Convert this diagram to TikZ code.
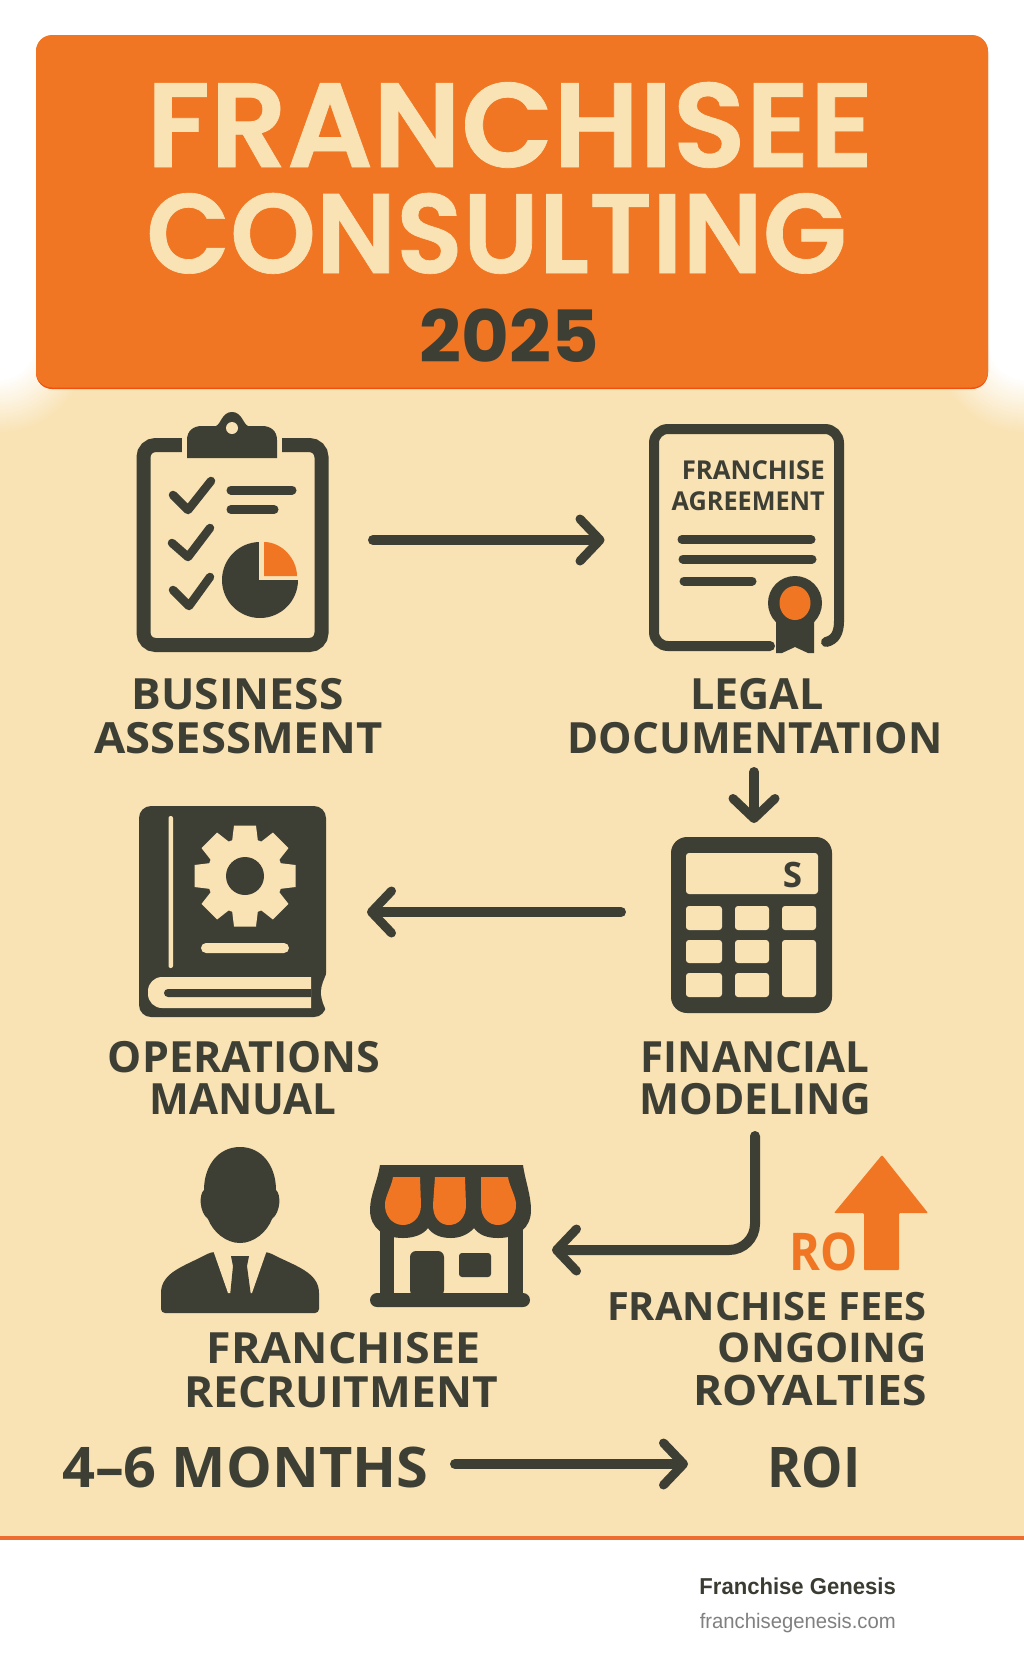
\documentclass[tikz,border=0pt]{standalone}
\usepackage{fontspec}
\usepackage{xcolor}
\usepackage{graphicx}
\setmainfont{Open Sans}
\newfontfamily\titlefont[FakeBold=0.6]{Poppins SemiBold}
\newfontfamily\yearfont{Poppins}
\newfontfamily\footfont{Liberation Sans}
\usetikzlibrary{arrows.meta,positioning}
\definecolor{ink}{HTML}{3D3F35}
\definecolor{cream}{HTML}{F9E2B3}
\definecolor{banner}{HTML}{F17623}
\definecolor{edge}{HTML}{F2500F}
\definecolor{rule}{HTML}{EE6C30}
\newcommand{\sq}[2]{\scalebox{#1}[1]{#2}}
\tikzstyle{flow}=[draw=ink, line width=10pt, line cap=round, -{Straight Barb[length=20pt,width=42pt,round,line width=9pt]}]
\tikzstyle{bar}=[draw=ink, line width=9pt, line cap=round]
\tikzstyle{tick}=[draw=ink, line width=8.5pt, line cap=round, line join=round]
\tikzstyle{key}=[fill=cream, rounded corners=3pt]
\tikzstyle{caption}=[text=ink, inner sep=0pt, anchor=base, font=\bfseries\fontsize{43}{44}\selectfont]
\begin{document}
\begin{tikzpicture}[x=1pt,y=-1pt]
\useasboundingbox (0,0) rectangle (1024,1666);

% background
\fill[cream] (0,370) rectangle (1024,1536);
\begin{scope}
\clip (0,345) rectangle (1024,440);
\foreach \r in {90,89,...,34} {
    \pgfmathtruncatemacro{\p}{(\r-34)*100/56}
    \fill[cream!\p!white] (0,345) circle (\r pt);
    \fill[cream!\p!white] (1024,345) circle (\r pt);
}
\end{scope}
\fill[rule] (0,1536) rectangle (1024,1539.5);

% banner
\fill[edge, rounded corners=16pt] (36,36) rectangle (988,389);
\fill[banner, rounded corners=16pt] (36,35) rectangle (988,387.5);
\node[anchor=base, inner sep=0pt, text=cream, font=\titlefont\fontsize{120}{120}\selectfont] (titleone) at (510,167) {FRANCHISEE};
\node[anchor=base, inner sep=0pt, text=cream, font=\titlefont\fontsize{113}{113}\selectfont] (titletwo) at (496.5,273) {\sq{.967}{CONSULTING}};
\node[anchor=base, inner sep=0pt, text=ink, font=\yearfont\bfseries\fontsize{72}{72}\selectfont] (year) at (509,362) {\sq{1.02}{2025}};

% clipboard
\draw[ink, line width=14pt, rounded corners=12pt] (143.5,445) rectangle (321.5,645);
\fill[cream] (182,436) rectangle (282,453);
\fill[ink] (187,458) -- (187,440) .. controls (187,431) and (193,426) .. (202,426) -- (216,426) .. controls (221,424) and (222,412) .. (232,412) .. controls (242,412) and (243,424) .. (248,426) -- (262,426) .. controls (271,426) and (277,431) .. (277,440) -- (277,458) -- cycle;
\fill[cream] (232,428) circle (6pt);
\draw[tick] (173,495) -- (188,510) -- (211,481);
\draw[tick] (172,543) -- (188,557) -- (210,528);
\draw[tick] (173,590) -- (189,606) -- (210,577);
\draw[bar] (231,490) -- (292,490);
\draw[bar] (231,509.5) -- (274,509.5);
\fill[ink] (260,580) circle (38pt);
\fill[cream] (259,535) rectangle (305,580);
\fill[banner] (264,576) -- (264,542) .. controls (282,542) and (297,559) .. (297,576) -- cycle;

% contract
\draw[ink, line width=10pt, line cap=round, rounded corners=14pt] (770,646) -- (654,646) -- (654,429) -- (839,429) -- (839,622);
\draw[ink, line width=10pt, line cap=round] (839,621) .. controls (839,633) and (835,640) .. (826,642);
\node[anchor=base east, inner sep=0pt, text=ink, font=\bfseries\fontsize{26}{26}\selectfont] (docone) at (825,479) {\sq{.99}{FRANCHISE}};
\node[anchor=base east, inner sep=0pt, text=ink, font=\bfseries\fontsize{26}{26}\selectfont] (doctwo) at (825,510) {\sq{.97}{AGREEMENT}};
\draw[bar] (682,539.5) -- (811,539.5);
\draw[bar] (683,559) -- (812,559);
\draw[bar] (684,581) -- (752,581);
\fill[ink] (776,620) -- (776,653) -- (782,653) -- (795,647) -- (808,653) -- (814,653) -- (814,620) -- cycle;
\fill[ink] (795,603) circle (27pt);
\fill[banner] (795,603) ellipse (15.5pt and 17pt);

% manual
\fill[ink, rounded corners=12pt] (139,806) rectangle (326,1017);
\fill[cream] (327,972) .. controls (324,980) and (321,985) .. (321,992) .. controls (321,1000) and (324,1006) .. (327,1012) -- cycle;
\fill[cream, rounded corners=2pt] (168.5,816) rectangle (173,968);
\foreach \a in {0,45,...,315} {
    \fill[cream, rotate around={\a:(245,876)}] (231,850) -- (234,825.5) -- (256,825.5) -- (259,850) -- cycle;
}
\fill[cream] (245,876) circle (38pt);
\fill[ink] (245,876) circle (19pt);
\fill[cream, rounded corners=5pt] (201,943) rectangle (289,953);
\fill[cream, rounded corners=14pt] (311,977) -- (148,977) -- (148,1008) -- (311,1008);
\fill[cream] (300,977) rectangle (311,1008);
\fill[ink, rounded corners=4pt] (311,989) -- (164,989) -- (164,997) -- (311,997);
\fill[ink] (300,989) rectangle (311,997);

% calculator
\fill[ink, rounded corners=16pt] (671,837) rectangle (832,1013);
\fill[key] (686,853) rectangle (818,894);
\node[anchor=base, inner sep=0pt, text=ink, font=\bfseries\fontsize{35}{35}\selectfont] (dollar) at (792.5,887) {S};
\foreach \x/\w in {686/722,735/769,782/816} {
    \fill[key] (\x,906) rectangle (\w,930);
}
\foreach \x/\w in {686/722,735/769} {
    \fill[key] (\x,940) rectangle (\w,963);
    \fill[key] (\x,973) rectangle (\w,997);
}
\fill[key] (782,940) rectangle (816,997);

% person
\fill[ink] (240,1147) .. controls (262,1147) and (276,1166) .. (276,1190) .. controls (281,1194) and (281,1212) .. (272,1219) .. controls (267,1232) and (254,1243) .. (240,1243) .. controls (226,1243) and (213,1232) .. (208,1219) .. controls (199,1212) and (199,1194) .. (204,1190) .. controls (204,1166) and (218,1147) .. (240,1147) -- cycle;
\fill[ink, rounded corners=4pt] (161,1313) -- (161,1297) .. controls (161,1272) and (185,1266) .. (211,1252) -- (268,1252) .. controls (295,1266) and (319,1272) .. (319,1297) -- (319,1313) -- cycle;
\fill[cream] (213,1250) -- (267,1250) -- (252,1293) -- (228,1293) -- cycle;
\fill[ink] (231,1256) -- (249,1256) -- (247,1266) -- (251,1296) -- (230,1296) -- (233,1266) -- cycle;

% shop
\fill[ink] (380,1172) rectangle (523,1300);
\fill[cream] (394,1225) rectangle (508,1293);
\fill[ink] (380,1165) -- (523,1165) .. controls (525,1180) and (531,1195) .. (531,1210) .. controls (531,1228) and (518,1238) .. (498,1238) .. controls (487,1238) and (479,1235) .. (474,1228) .. controls (468,1235) and (459,1238) .. (451,1238) .. controls (441,1238) and (433,1235) .. (428,1228) .. controls (423,1235) and (413,1238) .. (403,1238) .. controls (384,1238) and (370,1228) .. (370,1210) .. controls (370,1195) and (378,1180) .. (380,1165) -- cycle;
\fill[banner] (393,1177) -- (420,1177) -- (421,1205) .. controls (421,1218) and (412,1225) .. (403,1225) .. controls (392,1225) and (384,1215) .. (385,1203) .. controls (386,1195) and (392,1185) .. (393,1177) -- cycle;
\fill[banner] (435,1177) -- (465,1177) -- (466,1205) .. controls (466,1218) and (458,1225) .. (449,1225) .. controls (440,1225) and (433,1218) .. (433,1205) -- cycle;
\fill[banner] (481,1177) -- (508,1177) .. controls (509,1185) and (515,1195) .. (516,1203) .. controls (517,1215) and (509,1225) .. (498,1225) .. controls (489,1225) and (481,1218) .. (481,1205) -- cycle;
\fill[ink, rounded corners=6pt] (410,1296) -- (410,1251) -- (444,1251) -- (444,1296) -- cycle;
\fill[ink, rounded corners=3pt] (459,1253) rectangle (491,1277);
\fill[ink, rounded corners=7pt] (370,1293) rectangle (530,1307);

% RO arrow
\fill[banner, rounded corners=1pt] (882,1155) -- (928,1213) -- (899,1213) -- (899,1270) -- (864,1270) -- (864,1213) -- (834,1213) -- cycle;
\node[anchor=base, inner sep=0pt, text=banner, font=\bfseries\fontsize{52}{52}\selectfont] (rotext) at (824,1270) {\sq{.9}{RO}};

% labels
\node[caption] (assessone) at (237.5,709) {\sq{1.03}{BUSINESS}};
\node[caption] (assesstwo) at (238.5,753) {\sq{1.055}{ASSESSMENT}};
\node[caption] (legalone) at (757,709) {LEGAL};
\node[caption] (legaltwo) at (755,753) {\sq{.98}{DOCUMENTATION}};
\node[caption] (manualone) at (244,1072) {OPERATIONS};
\node[caption] (manualtwo) at (243,1114) {\sq{.98}{MANUAL}};
\node[caption] (modelone) at (755,1072) {\sq{.98}{FINANCIAL}};
\node[caption] (modeltwo) at (755.5,1114) {\sq{.985}{MODELING}};
\node[caption] (recruitone) at (343.5,1363) {\sq{1.04}{FRANCHISEE}};
\node[caption] (recruittwo) at (341,1407) {\sq{1.03}{RECRUITMENT}};
\node[caption, anchor=base east, font=\bfseries\fontsize{39}{39}\selectfont] (feesone) at (927,1320) {\sq{1.02}{FRANCHISE FEES}};
\node[caption, anchor=base east, font=\bfseries\fontsize{41}{41}\selectfont] (feestwo) at (927,1362) {\sq{1.02}{ONGOING}};
\node[caption, anchor=base east, font=\bfseries\fontsize{42}{42}\selectfont] (feesthree) at (927,1405) {\sq{1.055}{ROYALTIES}};
\node[caption, anchor=base west, font=\bfseries\fontsize{56}{56}\selectfont] (months) at (62,1487) {\sq{1.03}{4–6 MONTHS}};
\node[caption, anchor=base, font=\bfseries\fontsize{56}{56}\selectfont] (roi) at (814,1487) {\sq{.93}{ROI}};

% footer
\node[anchor=base east, inner sep=0pt, text=ink!95!black, font=\footfont\bfseries\fontsize{23}{23}\selectfont] (brand) at (896,1594) {\sq{.96}{Franchise Genesis}};
\node[anchor=base east, inner sep=0pt, text=black!50, font=\footfont\fontsize{21}{21}\selectfont] (site) at (896,1628) {\sq{.965}{franchisegenesis.com}};

% flows
\coordinate (assessout) at (373,540);
\coordinate (legalin) at (604.5,540);
\coordinate (legalout) at (754,772);
\coordinate (modelin) at (754,823);
\coordinate (modelout) at (621,912);
\coordinate (manualin) at (367,912);
\coordinate (feesout) at (755,1136);
\coordinate (shopin) at (552,1250);
\coordinate (monthsout) at (455,1464);
\coordinate (roiin) at (688,1464);
\draw[flow] (assessout) -- (legalin);
\draw[flow] (legalout) -- (modelin);
\draw[flow] (modelout) -- (manualin);
\draw[flow, rounded corners=26pt] (feesout) |- (shopin);
\draw[flow] (monthsout) -- (roiin);

\end{tikzpicture}
\end{document}
